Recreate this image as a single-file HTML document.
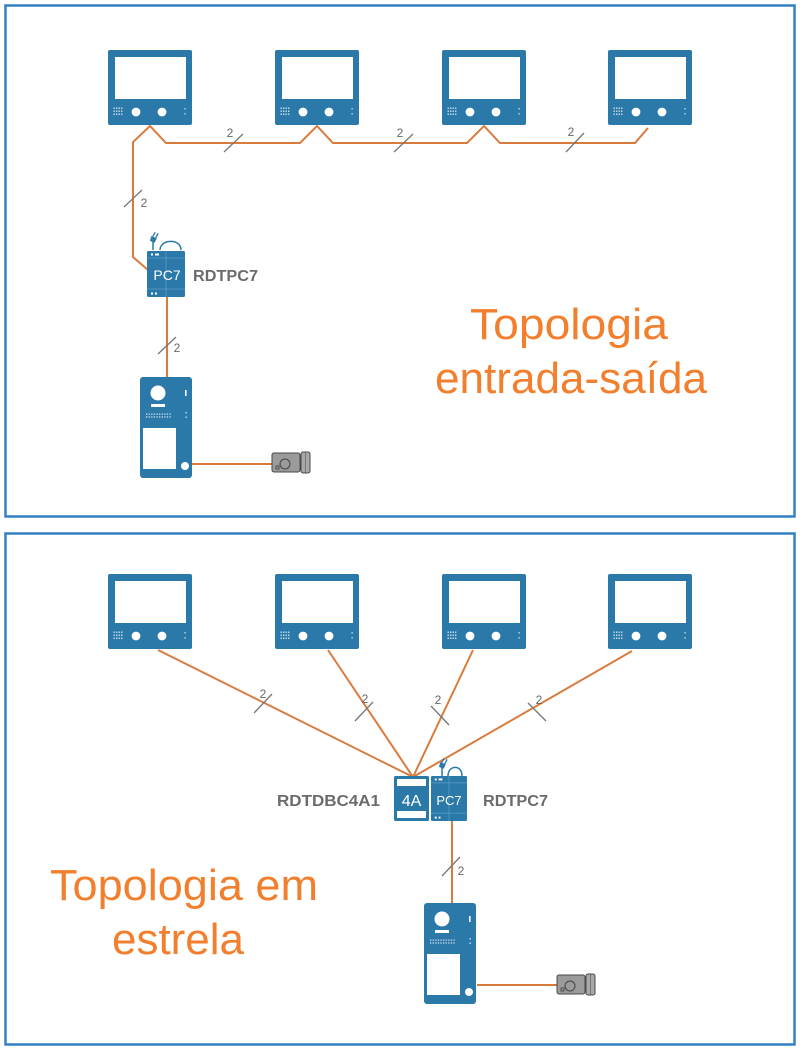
<!DOCTYPE html>
<html>
<head>
<meta charset="utf-8">
<style>
html,body{margin:0;padding:0;background:#fff;}
svg{display:block;}
</style>
</head>
<body>
<svg width="800" height="1050" viewBox="0 0 800 1050" xmlns="http://www.w3.org/2000/svg">
<defs>
  <g id="mon">
    <rect x="0" y="0" width="84" height="75" rx="2" fill="#2a79a9"/>
    <rect x="7" y="7" width="71" height="42" fill="#fff"/>
    <g fill="#cfe1ee">
      <rect x="5.5" y="57.5" width="1.4" height="1.4"/><rect x="8" y="57.5" width="1.4" height="1.4"/><rect x="10.5" y="57.5" width="1.4" height="1.4"/><rect x="13" y="57.5" width="1.4" height="1.4"/>
      <rect x="5.5" y="60.5" width="1.4" height="1.4"/><rect x="8" y="60.5" width="1.4" height="1.4"/><rect x="10.5" y="60.5" width="1.4" height="1.4"/><rect x="13" y="60.5" width="1.4" height="1.4"/>
      <rect x="5.5" y="63.5" width="1.4" height="1.4"/><rect x="8" y="63.5" width="1.4" height="1.4"/><rect x="10.5" y="63.5" width="1.4" height="1.4"/><rect x="13" y="63.5" width="1.4" height="1.4"/>
      <rect x="76.5" y="58" width="1.2" height="1.5"/><rect x="76.5" y="63" width="1.2" height="1.5"/>
    </g>
    <circle cx="28" cy="62" r="4.4" fill="#fff"/>
    <circle cx="54" cy="62" r="4.4" fill="#fff"/>
  </g>
  <g id="panel">
    <rect x="0" y="0" width="52" height="101" rx="3" fill="#2a79a9"/>
    <circle cx="18" cy="16" r="7.5" fill="#fff"/>
    <rect x="11" y="27" width="14" height="3" fill="#fff"/>
    <g fill="#cfe1ee">
      <rect x="6" y="36.5" width="1.3" height="1.3"/><rect x="8.6" y="36.5" width="1.3" height="1.3"/><rect x="11.2" y="36.5" width="1.3" height="1.3"/><rect x="13.8" y="36.5" width="1.3" height="1.3"/><rect x="16.4" y="36.5" width="1.3" height="1.3"/><rect x="19" y="36.5" width="1.3" height="1.3"/><rect x="21.6" y="36.5" width="1.3" height="1.3"/><rect x="24.2" y="36.5" width="1.3" height="1.3"/><rect x="26.8" y="36.5" width="1.3" height="1.3"/><rect x="29.4" y="36.5" width="1.3" height="1.3"/>
      <rect x="6" y="39.3" width="1.3" height="1.3"/><rect x="8.6" y="39.3" width="1.3" height="1.3"/><rect x="11.2" y="39.3" width="1.3" height="1.3"/><rect x="13.8" y="39.3" width="1.3" height="1.3"/><rect x="16.4" y="39.3" width="1.3" height="1.3"/><rect x="19" y="39.3" width="1.3" height="1.3"/><rect x="21.6" y="39.3" width="1.3" height="1.3"/><rect x="24.2" y="39.3" width="1.3" height="1.3"/><rect x="26.8" y="39.3" width="1.3" height="1.3"/><rect x="29.4" y="39.3" width="1.3" height="1.3"/>
      <rect x="45.5" y="35" width="1.3" height="1.5"/><rect x="45.5" y="39.5" width="1.3" height="1.5"/>
    </g>
    <rect x="45" y="13" width="1.6" height="6" fill="#fff"/>
    <rect x="3" y="51" width="33" height="41" fill="#fff"/>
    <circle cx="45" cy="89" r="4" fill="#fff"/>
  </g>
  <g id="lock">
    <rect x="0" y="1" width="28" height="19" rx="2" fill="#9b9b9b" stroke="#4a4a4a" stroke-width="1"/>
    <rect x="29" y="0" width="9" height="21" rx="2" fill="#a8a8a8" stroke="#4a4a4a" stroke-width="1"/>
    <line x1="33.5" y1="0.5" x2="33.5" y2="20.5" stroke="#6a6a6a" stroke-width="0.8"/>
    <circle cx="13" cy="12" r="5" fill="none" stroke="#444" stroke-width="1"/>
    <rect x="4" y="14" width="3" height="3" fill="none" stroke="#444" stroke-width="0.9"/>
  </g>
  <g id="pc7">
    <rect x="0" y="0" width="38" height="46" rx="1.5" fill="#2a79a9"/>
    <line x1="0" y1="7" x2="38" y2="7" stroke="#5e9cc4" stroke-width="0.8"/>
    <line x1="0" y1="38" x2="38" y2="38" stroke="#5e9cc4" stroke-width="0.8"/>
    <line x1="19" y1="0" x2="19" y2="46" stroke="#5e9cc4" stroke-width="0.8"/>
    <rect x="4" y="2.5" width="2" height="2" fill="#fff"/>
    <rect x="8" y="2.5" width="4" height="2" fill="#fff"/>
    <rect x="4" y="41.5" width="2" height="2" fill="#fff"/>
    <rect x="8" y="41.5" width="2" height="2" fill="#fff"/>
  </g>
  <g id="plug">
    <path d="M0 0 L0 -8" stroke="#2a79a9" stroke-width="1.5" fill="none"/>
    <path d="M-2.5 -8 L2.5 -8 L3 -13 L-3 -13 Z" fill="#2a79a9" transform="rotate(20 0 -10)"/>
    <line x1="-1.5" y1="-13" x2="-0.5" y2="-18" stroke="#2a79a9" stroke-width="1.3" transform="rotate(20 0 -10)"/>
    <line x1="1.8" y1="-13" x2="2.6" y2="-18" stroke="#2a79a9" stroke-width="1.3" transform="rotate(20 0 -10)"/>
  </g>
</defs>

<!-- frames -->
<rect x="5.5" y="5.5" width="789" height="511" fill="none" stroke="#3381c4" stroke-width="2.5"/>
<rect x="5.5" y="533.5" width="789" height="511" fill="none" stroke="#3381c4" stroke-width="2.5"/>

<!-- ===== TOP ===== -->
<g fill="none" stroke="#d97b3c" stroke-width="2" stroke-linejoin="miter">
  <polyline points="148,270 133,257 133,142 150,126 166,143 300,143 317,126 333,143 467,143 484,126 500,143 635,143 648,128"/>
  <line x1="167" y1="297" x2="167" y2="377"/>
  <line x1="192" y1="464" x2="272" y2="464"/>
</g>
<use href="#mon" x="108" y="50"/>
<use href="#mon" x="275" y="50"/>
<use href="#mon" x="442" y="50"/>
<use href="#mon" x="608" y="50"/>

<!-- ticks top -->
<g stroke="#777" stroke-width="1.3">
  <line x1="224" y1="152" x2="243" y2="134"/>
  <line x1="394" y1="152" x2="413" y2="134"/>
  <line x1="566" y1="152" x2="584" y2="133"/>
  <line x1="124" y1="207" x2="142" y2="190"/>
  <line x1="158" y1="354" x2="176" y2="337"/>
</g>
<g font-family="Liberation Sans, sans-serif" font-size="12" fill="#666" text-anchor="middle">
  <text x="230" y="137">2</text>
  <text x="400" y="137">2</text>
  <text x="571" y="136">2</text>
  <text x="144" y="207">2</text>
  <text x="177" y="352">2</text>
</g>

<!-- PC7 top -->
<g transform="translate(153,250)"><use href="#plug"/></g>
<path d="M160 250 C160 239, 181 238, 181 250" fill="none" stroke="#2a79a9" stroke-width="1.5"/>
<use href="#pc7" x="147" y="251"/>
<text x="167" y="280" font-family="Liberation Sans, sans-serif" font-size="14" fill="#fff" text-anchor="middle">PC7</text>
<text x="193" y="281" font-family="Liberation Sans, sans-serif" font-size="16" font-weight="bold" fill="#6b6b6b" textLength="65" lengthAdjust="spacingAndGlyphs">RDTPC7</text>

<use href="#panel" x="140" y="377"/>
<use href="#lock" x="272" y="452"/>

<g font-family="Liberation Sans, sans-serif" font-size="44" fill="#f27f2d" text-anchor="middle">
  <text x="569" y="339" textLength="198" lengthAdjust="spacingAndGlyphs">Topologia</text>
  <text x="571" y="393" textLength="272" lengthAdjust="spacingAndGlyphs">entrada-saída</text>
</g>

<!-- ===== BOTTOM ===== -->
<g fill="none" stroke="#d97b3c" stroke-width="2">
  <line x1="158" y1="650" x2="413" y2="777"/>
  <line x1="328" y1="650" x2="413" y2="777"/>
  <line x1="473" y1="650" x2="413" y2="777"/>
  <line x1="632" y1="651" x2="413" y2="777"/>
  <line x1="452" y1="821" x2="452" y2="903"/>
  <line x1="477" y1="985" x2="557" y2="985"/>
</g>
<use href="#mon" x="108" y="574"/>
<use href="#mon" x="275" y="574"/>
<use href="#mon" x="442" y="574"/>
<use href="#mon" x="608" y="574"/>

<g stroke="#777" stroke-width="1.3">
  <line x1="254" y1="713" x2="272" y2="694"/>
  <line x1="355" y1="721" x2="373" y2="702"/>
  <line x1="431" y1="706" x2="449" y2="725"/>
  <line x1="528" y1="703" x2="546" y2="721"/>
  <line x1="442" y1="876" x2="460" y2="857"/>
</g>
<g font-family="Liberation Sans, sans-serif" font-size="12" fill="#666" text-anchor="middle">
  <text x="263" y="698">2</text>
  <text x="365" y="703">2</text>
  <text x="438" y="704">2</text>
  <text x="539" y="704">2</text>
  <text x="461" y="875">2</text>
</g>

<!-- 4A -->
<rect x="394" y="776" width="35" height="45" rx="1.5" fill="#2a79a9"/>
<rect x="397" y="779" width="29" height="7" fill="#fff"/>
<rect x="397" y="811" width="29" height="7" fill="#fff"/>
<text x="411.5" y="806" font-family="Liberation Sans, sans-serif" font-size="16" fill="#fff" text-anchor="middle">4A</text>

<!-- PC7 bottom -->
<g transform="translate(442,776)"><use href="#plug"/></g>
<path d="M448 776 C448 765, 462 764, 462 776" fill="none" stroke="#2a79a9" stroke-width="1.5"/>
<g transform="translate(431,776) scale(0.947,0.978)"><use href="#pc7"/></g>
<text x="449" y="805" font-family="Liberation Sans, sans-serif" font-size="13" fill="#fff" text-anchor="middle">PC7</text>

<text x="277" y="806" font-family="Liberation Sans, sans-serif" font-size="16" font-weight="bold" fill="#6b6b6b" textLength="103" lengthAdjust="spacingAndGlyphs">RDTDBC4A1</text>
<text x="483" y="806" font-family="Liberation Sans, sans-serif" font-size="16" font-weight="bold" fill="#6b6b6b" textLength="65" lengthAdjust="spacingAndGlyphs">RDTPC7</text>

<use href="#panel" x="424" y="903"/>
<use href="#lock" x="557" y="974"/>

<g font-family="Liberation Sans, sans-serif" font-size="44" fill="#f27f2d" text-anchor="middle">
  <text x="184" y="900" textLength="268" lengthAdjust="spacingAndGlyphs">Topologia em</text>
  <text x="178" y="954" textLength="132" lengthAdjust="spacingAndGlyphs">estrela</text>
</g>
</svg>
</body>
</html>
